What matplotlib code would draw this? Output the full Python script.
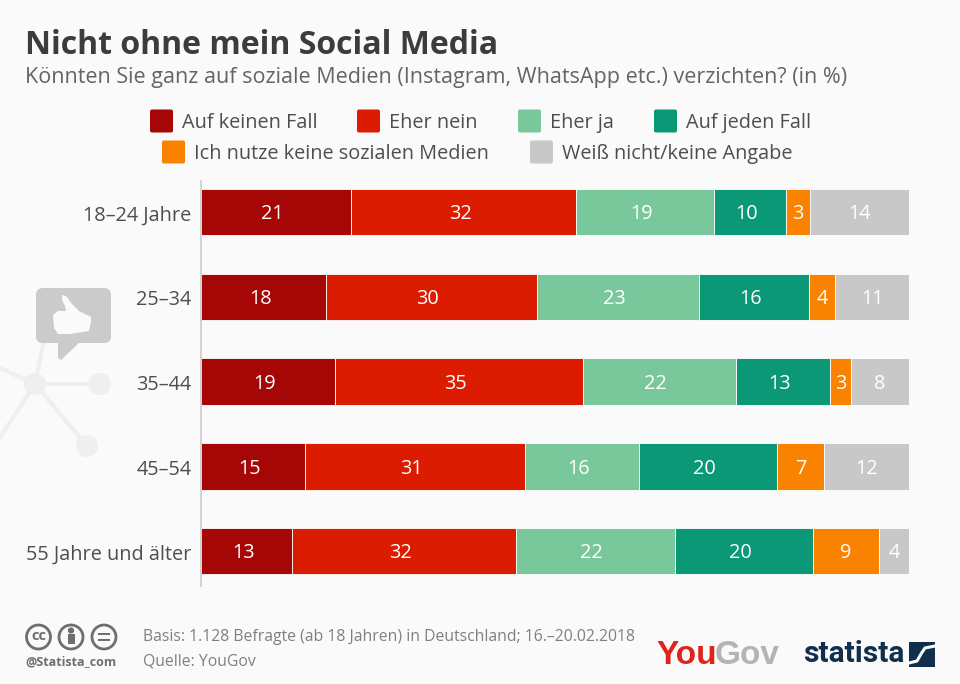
import numpy as np
import matplotlib
matplotlib.use("Agg")
import matplotlib.pyplot as plt
from matplotlib.patches import Circle, FancyBboxPatch, Polygon, Rectangle
from matplotlib.transforms import ScaledTranslation

plt.rcParams['font.family'] = ['Open Sans', 'DejaVu Sans']

groups = ["18–24 Jahre", "25–34", "35–44", "45–54", "55 Jahre und älter"]
series = ["Auf keinen Fall", "Eher nein", "Eher ja", "Auf jeden Fall",
          "Ich nutze keine sozialen Medien", "Weiß nicht/keine Angabe"]
colors = ["#a50606", "#dc1c00", "#78c89b", "#0a9876", "#f98200", "#c8c8c8"]

# shares, labels show them rounded
auf_keinen_fall = [21.2, 17.7, 18.9, 14.7, 12.9]
eher_nein = [31.8, 29.7, 35.0, 31.1, 31.6]
eher_ja = [19.4, 22.9, 21.6, 16.0, 22.4]
auf_jeden_fall = [10.2, 15.6, 13.3, 19.6, 19.6]
keine_nutzung = [3.4, 3.7, 3.0, 6.6, 9.2]
weiss_nicht = [14.0, 10.6, 8.2, 12.0, 4.4]

BG = "#fafafa"
W, H = 960, 684

fig = plt.figure(figsize=(9.6, 6.84), dpi=100, facecolor=BG)

# overlay in pixel coordinates for texts and decoration
bg = fig.add_axes([0, 0, 1, 1])
bg.set_xlim(0, W)
bg.set_ylim(H, 0)
bg.axis("off")

# network decoration
net = "#efefef"
for x1, y1, x2, y2 in [(35, 384, 100, 384), (35, 384, 87, 446), (35, 384, 0, 368),
                       (35, 384, -5, 445), (35, 384, 45, 335)]:
    bg.plot([x1, x2], [y1, y2], color=net, lw=3, solid_capstyle="butt", zorder=1)
for cx, cy, r in [(35, 384, 11), (100, 384, 11), (87, 446, 11)]:
    bg.add_patch(Circle((cx, cy), r, color=net, ec="none", zorder=1))

# thumb bubble
bg.add_patch(FancyBboxPatch((36, 288), 75, 55, boxstyle="round,pad=0,rounding_size=7",
                            fc="#cbcbcb", ec="none", zorder=2))
bg.add_patch(Polygon([[58, 340], [58, 358], [61, 360], [80, 342]], fc="#cbcbcb", ec="none", zorder=2))
thumb = [[62, 295], [66, 296], [72, 304], [79, 311], [91, 317], [91, 322], [89, 331],
         [70, 334], [58, 334], [54, 328], [53, 315], [58, 311], [66, 311], [65, 306], [62, 300]]
bg.add_patch(Polygon(thumb, fc="#fafafa", ec="none", zorder=3))

# title block
bg.text(25, 45, "Nicht ohne mein Social Media", fontsize=23.0, fontweight="bold",
        color="#3c3c3c", va="center", ha="left")
bg.text(25, 78, "Könnten Sie ganz auf soziale Medien (Instagram, WhatsApp etc.) verzichten? (in %)",
        fontsize=15.5, color="#646464", va="center", ha="left")

# legend
legend_pos = [(150, 121), (357, 121), (518, 121), (654, 121), (162, 152), (530, 152)]
for name, col, (lx, ly) in zip(series, colors, legend_pos):
    bg.add_patch(FancyBboxPatch((lx, ly - 11.5), 23, 23, boxstyle="round,pad=0,rounding_size=2",
                                fc=col, ec="none"))
    bg.text(lx + 32, ly + 2, name, fontsize=14.3, color="#4e4e4e", va="center", ha="left")

# stacked bars
ax = fig.add_axes([201 / W, 1 - 586 / H, 708 / W, (586 - 181) / H])
ax.patch.set_alpha(0)

values = np.array([auf_keinen_fall, eher_nein, eher_ja, auf_jeden_fall, keine_nutzung, weiss_nicht])
y = np.arange(len(groups))
left = np.zeros(len(groups))
for i, col in enumerate(colors):
    ax.barh(y, values[i], left=left, height=0.545, color=col, edgecolor="white", linewidth=0.6)
    # labels of the wide segments sit a bit left of centre in the original
    nudge = -0.5 if i < 4 else 0
    for j in range(len(groups)):
        ax.text(left[j] + values[i, j] / 2 + nudge, y[j] + 0.025, str(int(round(values[i, j]))), color="white",
                fontsize=14.3, ha="center", va="center")
    left += values[i]

ax.set_xlim(0, 100)
ax.set_ylim(4.41, -0.365)
ax.set_yticks(y)
ax.set_yticklabels(groups, fontsize=14.3, color="#4e4e4e")
ax.tick_params(axis="y", length=0, pad=7)
shift = ScaledTranslation(0, -1 / 100, fig.dpi_scale_trans)
for label in ax.get_yticklabels():
    label.set_transform(label.get_transform() + shift)
ax.set_xticks([])
for s in ["top", "right", "bottom"]:
    ax.spines[s].set_visible(False)
ax.spines["left"].set_color("#cccccc")
ax.spines["left"].set_linewidth(1.2)

# footer: licence icons
for cx in [38.5, 71, 104]:
    bg.add_patch(Circle((cx, 637), 12, fc="none", ec="#6e6e6e", lw=2))
bg.text(38.5, 636.5, "cc", fontsize=10.5, fontweight="bold", color="#6e6e6e", ha="center", va="center")
bg.add_patch(Circle((71, 630.5), 2.4, color="#6e6e6e"))
bg.add_patch(Rectangle((67.5, 634), 7, 10, color="#6e6e6e", lw=0))
bg.add_patch(Rectangle((98, 632.5), 12, 2.6, color="#6e6e6e", lw=0))
bg.add_patch(Rectangle((98, 638.5), 12, 2.6, color="#6e6e6e", lw=0))
bg.text(25, 662, "@Statista_com", fontsize=9.0, fontweight="bold", color="#6e6e6e", va="center", ha="left")

bg.text(143, 637, "Basis: 1.128 Befragte (ab 18 Jahren) in Deutschland; 16.–20.02.2018",
        fontsize=11.3, color="#808080", va="center", ha="left")
bg.text(143, 662, "Quelle: YouGov", fontsize=11.3, color="#808080", va="center", ha="left")

# logos
you = bg.text(656, 655, "You", fontsize=24, fontweight="bold", family="Liberation Sans",
              color="#e0241b", va="center", ha="left")
fig.canvas.draw()
ext = you.get_window_extent()
bg.text(ext.x1 - 2, 655, "Gov", fontsize=24, fontweight="bold", family="Liberation Sans",
        color="#b4b4b4", va="center", ha="left")
bg.text(803, 654, "statista", fontsize=21.5, fontweight="bold", family="Roboto",
        color="#0f2f4d", va="center", ha="left")
bg.add_patch(Rectangle((909, 642), 26, 25, color="#0f2f4d", lw=0))
bg.plot([909, 917, 921, 925, 935], [663, 661, 654, 648, 646], color=BG, lw=2.2, zorder=5)

fig.savefig("out.png", dpi=100, facecolor=BG)
